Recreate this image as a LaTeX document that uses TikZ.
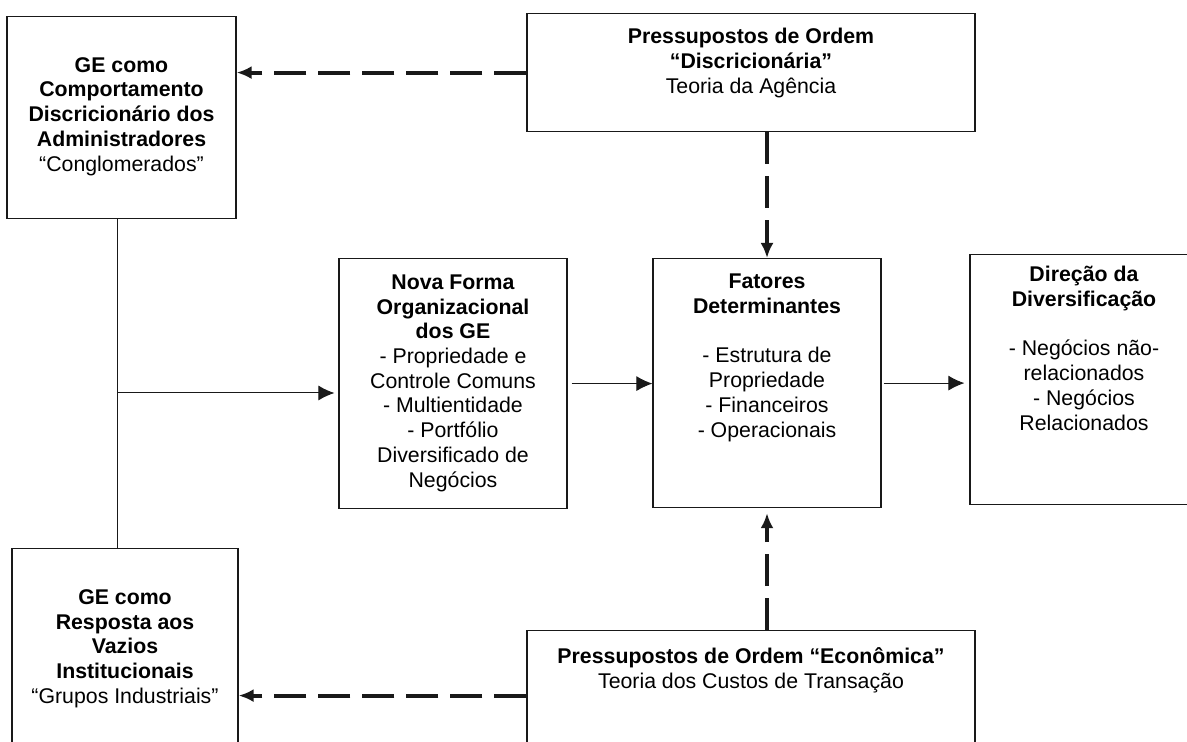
\documentclass[tikz,border=0pt]{standalone}
\usepackage{fontspec}
\setmainfont{Liberation Sans}
\usetikzlibrary{arrows.meta}

\begin{document}
\begin{tikzpicture}[
x=0.5pt,
y=-0.5pt,
box/.style={
draw=black!90,
line width=0.6pt,
rectangle,
anchor=north,
inner xsep=2pt,
inner ysep=0pt,
align=center,
font=\fontsize{10.65}{12.35}\selectfont
},
arrow/.style={
-{Latex[length=8pt,width=7.5pt]},
line width=0.5pt,
draw=black!90
},
dasharrow/.style={
-{Latex[length=7.5pt,width=6.5pt]},
line width=2pt,
dash pattern=on 16pt off 6pt,
draw=black!90
}
]
\useasboundingbox (0,0) rectangle (1187,742);

\node (conglom) [box, minimum width=114.5pt, text height=77.25pt, text depth=23.75pt] at (121.5,16)
{\textbf{GE como}\\\textbf{Comportamento}\\\textbf{Discricionário dos}\\\textbf{Administradores}\\“Conglomerados”};

\node (discr) [box, minimum width=224pt, text height=39.75pt, text depth=19.25pt] at (751,13)
{\textbf{Pressupostos de Ordem}\\\textbf{“Discricionária”}\\Teoria da Agência};

\node (nova) [box, minimum width=114pt, text height=114.25pt, text depth=10.75pt] at (453,258)
{\textbf{Nova Forma}\\\textbf{Organizacional}\\\textbf{dos GE}\\- Propriedade e\\Controle Comuns\\- Multientidade\\- Portfólio\\Diversificado de\\Negócios};

\node (fatores) [box, minimum width=114pt, text height=89.25pt, text depth=35.25pt] at (767,258)
{\textbf{Fatores}\\\textbf{Determinantes}\\[12.35pt]- Estrutura de\\Propriedade\\- Financeiros\\- Operacionais};

\node (dir) [box, minimum width=114pt, text height=87.75pt, text depth=37.25pt] at (1084,254)
{\textbf{Direção da}\\\textbf{Diversificação}\\[12.35pt]- Negócios não-\\relacionados\\- Negócios\\Relacionados};

\node (inst) [box, minimum width=113pt, text height=77.25pt, text depth=28.75pt] at (125,548)
{\textbf{GE como}\\\textbf{Resposta aos}\\\textbf{Vazios}\\\textbf{Institucionais}\\“Grupos Industriais”};

\node (econ) [box, minimum width=224pt, text height=28.75pt, text depth=36.25pt] at (751,630)
{\textbf{Pressupostos de Ordem “Econômica”}\\Teoria dos Custos de Transação};

\coordinate (trunk) at (117,393);

\draw[line width=0.5pt, black!90] (trunk |- conglom.south) -- (trunk |- inst.north);
\draw[arrow, shorten >=2pt] (trunk) -- (trunk -| nova.west);
\draw[arrow, shorten <=2pt] (nova.east) -- (nova.east -| fatores.west);
\draw[arrow, shorten <=1pt, shorten >=2.5pt] (fatores.east) -- (fatores.east -| dir.west);

\draw[dasharrow] (discr.west) -- (discr.west -| conglom.east);
\draw[dasharrow] (fatores.north |- discr.south) -- (fatores.north);
\draw[dasharrow, shorten >=2.5pt] (fatores.south |- econ.north) -- (fatores.south);
\draw[dasharrow] (econ.west) -- (econ.west -| inst.east);

\end{tikzpicture}
\end{document}
